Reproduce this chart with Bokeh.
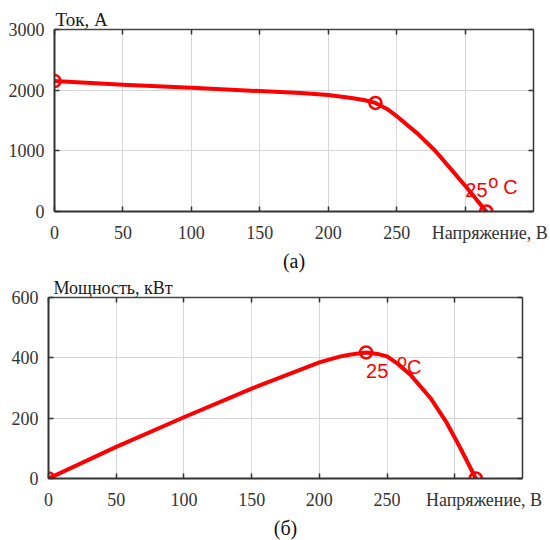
from bokeh.plotting import figure
from bokeh.models import Range1d, LinearAxis, FixedTicker, Label, Title
from bokeh.embed import file_html
from bokeh.resources import INLINE

# ---- data ----
x_ticks = [0, 50, 100, 150, 200, 250, 300]
cur_ticks = [0, 1000, 2000, 3000]
pow_ticks = [0, 200, 400, 600]

v_cur = [0, 50, 100, 150, 180, 200, 217, 226, 234.5, 243, 251, 265.5, 278, 290, 301, 309.5, 315.5]
i_cur = [2150, 2090, 2040, 1985, 1955, 1920, 1872, 1838, 1790, 1690, 1555, 1280, 1005, 690, 400, 165, 0]

v_pow = [0, 50, 100, 150, 200, 215, 222, 234.5, 243, 250, 258, 267, 282, 294, 304, 315.5]
p_pow = [0, 105, 203, 298, 385, 404, 410, 418, 413, 405, 380, 345, 267, 185, 102, 0]

v_pts = [0, 234.5, 315.5]
i_pts = [2150, 1790, 0]
p_pts = [0, 418, 0]

temp_label = "25"
y_label_cur = "Ток, А"
y_label_pow = "Мощность, кВт"
x_label = "Напряжение, В"
cap_a = "(а)"
cap_b = "(б)"

RED = "#ff0000"
SERIF = "Liberation Serif"
SANS = "Liberation Sans"
NB = "\u00a0"


def tick_only_axis(ticks, line_color):
    return LinearAxis(ticker=FixedTicker(ticks=ticks),
                      major_label_text_font_size="0px", major_label_text_color=None,
                      major_label_standoff=0,
                      major_tick_in=5, major_tick_out=0,
                      major_tick_line_color="#333333", major_tick_line_width=1.5,
                      minor_tick_line_color=None,
                      axis_line_color=line_color, axis_line_width=1.5)


def make_fig(width, height, bl, bt, br, bb, y_end, y_ticks, x_pad):
    p = figure(width=width, height=height,
               x_range=Range1d(0, 350), y_range=Range1d(0, y_end),
               output_backend="svg", toolbar_location=None,
               min_border_left=bl, min_border_top=bt,
               min_border_right=br, min_border_bottom=bb)
    p.outline_line_color = None
    p.background_fill_color = "white"
    p.border_fill_color = "white"
    for ax, tk in ((p.xaxis[0], x_ticks), (p.yaxis[0], y_ticks)):
        ax.ticker = FixedTicker(ticks=tk)
        ax.minor_tick_line_color = None
        ax.major_tick_in = 5
        ax.major_tick_out = 0
        ax.major_tick_line_color = "#333333"
        ax.major_tick_line_width = 1.5
        ax.axis_line_color = "#333333"
        ax.axis_line_width = 2
        ax.major_label_text_font = SERIF
        ax.major_label_text_font_size = "18px"
        ax.major_label_text_color = "#333333"
    # the last x tick label is replaced by the axis name, as in the original
    p.xaxis[0].major_label_overrides = {x_ticks[-1]: NB * x_pad + x_label}
    p.xaxis.major_label_standoff = 11
    p.yaxis.major_label_standoff = 10
    p.xgrid.ticker = FixedTicker(ticks=x_ticks)
    p.ygrid.ticker = FixedTicker(ticks=y_ticks)
    p.grid.grid_line_color = "#d6d6d6"
    p.grid.grid_line_width = 1
    p.add_layout(tick_only_axis(x_ticks, "#444444"), "above")
    p.add_layout(tick_only_axis(y_ticks, "#333333"), "right")
    return p


def add_titles(p, ytitle, ytitle_off, ysize, cap, cap_off):
    p.add_layout(Title(text=ytitle, align="left", offset=ytitle_off, standoff=0,
                       text_font=SERIF, text_font_size=ysize, text_font_style="normal",
                       text_color="#1a1a1a"), "above")
    p.add_layout(Title(text=cap, align="center", offset=cap_off, standoff=4,
                       text_font=SERIF, text_font_size="20px", text_font_style="normal",
                       text_color="#111111"), "below")


# ---- top: current ----
p1 = make_fig(550, 275, 54, 29, 17, 64, 3000, cur_ticks, 11)
add_titles(p1, y_label_cur, 1, "19px", cap_a, -16)
p1.line(v_cur, i_cur, line_color=RED, line_width=4, line_join="round", line_cap="round")
p1.scatter(v_pts, i_pts, marker="circle", size=12, fill_color=None,
           line_color=RED, line_width=2.5)
p1.add_layout(Label(x=v_pts[2], y=i_pts[2], text=temp_label, x_offset=-21, y_offset=14.5,
                    text_font=SANS, text_font_size="20px", text_color=RED))
p1.add_layout(Label(x=v_pts[2], y=i_pts[2], text="o", x_offset=2, y_offset=20,
                    text_font=SANS, text_font_size="18px", text_color=RED))
p1.add_layout(Label(x=v_pts[2], y=i_pts[2], text="C", x_offset=17, y_offset=14,
                    text_font=SANS, text_font_size="20px", text_color=RED))

# ---- bottom: power ----
p2 = make_fig(550, 265, 48, 22, 28, 62, 600, pow_ticks, 13)
add_titles(p2, y_label_pow, 5, "18px", cap_b, -8)
p2.line(v_pow, p_pow, line_color=RED, line_width=4, line_join="round", line_cap="round")
p2.scatter(v_pts, p_pts, marker="circle", size=12, fill_color=None,
           line_color=RED, line_width=2.5)
p2.add_layout(Label(x=v_pts[1], y=p_pts[1], text=temp_label, x_offset=0, y_offset=-26,
                    text_font=SANS, text_font_size="20px", text_color=RED))
p2.add_layout(Label(x=v_pts[1], y=p_pts[1], text="o", x_offset=31, y_offset=-19,
                    text_font=SANS, text_font_size="18px", text_color=RED))
p2.add_layout(Label(x=v_pts[1], y=p_pts[1], text="C", x_offset=41, y_offset=-26,
                    text_font=SANS, text_font_size="20px", text_color=RED))

open("out.html", "w").write(file_html([p1, p2], INLINE))
